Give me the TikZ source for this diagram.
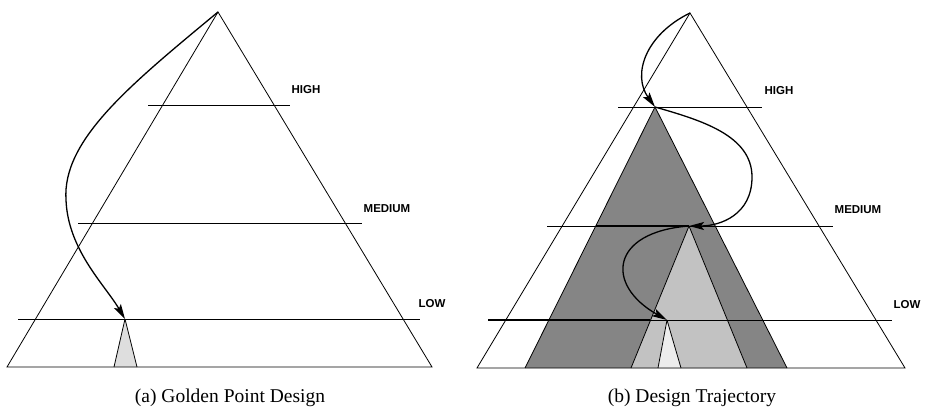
\documentclass[tikz,border=0pt]{standalone}
\usepackage{fontspec}
\setmainfont{Liberation Serif}
\newfontfamily\lblfont{Liberation Sans}
\usetikzlibrary{arrows.meta}
\begin{document}
\begin{tikzpicture}[x=1pt,y=-1pt,
  outline/.style={line width=0.8pt,line join=miter},
  level/.style={line width=0.8pt},
  thicklevel/.style={line width=1.6pt},
  traj/.style={line width=1.3pt,-{Stealth[length=15pt,width=8pt,inset=3pt]}},
  lvllabel/.style={font=\lblfont\bfseries\fontsize{11.5}{13}\selectfont,inner sep=0pt},
  caption/.style={font=\fontsize{19.5}{22}\selectfont,inner sep=0pt}]
\useasboundingbox (0,0) rectangle (928,414);
% ---------- panel (a) ----------
\coordinate (aA) at (218,12);
\coordinate (aL) at (7,367);
\coordinate (aR) at (432,367);
\coordinate (ag) at (125,319);
\coordinate (agL) at (114,367);
\coordinate (agR) at (137,367);
\fill[black!13] (ag) -- (agL) -- (agR) -- cycle;
\draw[outline] (ag) -- (agL) (ag) -- (agR);
\draw[outline] (aA) -- (aL) -- (aR) -- cycle;
\coordinate (ah1) at (148,105); \coordinate (ah2) at (290,105);
\coordinate (am1) at (78,223);  \coordinate (am2) at (362,223);
\coordinate (al1) at (18,319);  \coordinate (al2) at (420,319);
\draw[level] (ah1) -- (ah2);
\draw[level] (am1) -- (am2);
\draw[level] (al1) -- (al2);
\node[lvllabel] (aHigh) at (306,90) {HIGH};
\node[lvllabel] (aMed) at (387,209) {MEDIUM};
\node[lvllabel] (aLow) at (432,304) {LOW};
\draw[traj] (aA) .. controls (130,85) and (62,140) .. (66,200)
  .. controls (68,250) and (105,285) .. (ag);
\node[caption] (capA) at (230,398) {(a) Golden Point Design};
% ---------- panel (b) ----------
\coordinate (bA) at (690,13);
\coordinate (bL) at (477,368);
\coordinate (bR) at (905,368);
\coordinate (bh) at (655,107);
\coordinate (bhL) at (525,368);
\coordinate (bhR) at (787,368);
\coordinate (bm) at (689,226);
\coordinate (bmL) at (631,368);
\coordinate (bmR) at (747,368);
\coordinate (bl) at (667,320);
\coordinate (blL) at (658,368);
\coordinate (blR) at (681,368);
\fill[black!48] (bh) -- (bhL) -- (bhR) -- cycle;
\fill[black!24] (bm) -- (bmL) -- (bmR) -- cycle;
\fill[black!7] (bl) -- (blL) -- (blR) -- cycle;
\draw[outline] (bh) -- (bhL) (bh) -- (bhR);
\draw[outline] (bm) -- (bmL) (bm) -- (bmR);
\draw[outline] (bl) -- (blL) (bl) -- (blR);
\draw[outline] (bA) -- (bL) -- (bR) -- cycle;
\coordinate (bh1) at (618,107); \coordinate (bh2) at (762,107);
\coordinate (bm1) at (547,226); \coordinate (bm2) at (833,226);
\coordinate (bmT) at (596,226);
\coordinate (bl1) at (488,320); \coordinate (bl2) at (892,320);
\coordinate (blT) at (650,320);
\draw[level] (bh1) -- (bh2);
\draw[level] (bm1) -- (bm2);
\draw[thicklevel] (bmT) -- (bm);
\draw[level] (bl1) -- (bl2);
\draw[thicklevel] (bl1) -- (blT);
\node[lvllabel] (bHigh) at (779,91) {HIGH};
\node[lvllabel] (bMed) at (858,210) {MEDIUM};
\node[lvllabel] (bLow) at (907,305) {LOW};
\draw[traj] (bA) .. controls (645,35) and (632,75) .. (bh);
\draw[traj] (bh) .. controls (700,120) and (752,135) .. (752,177)
  .. controls (752,215) and (720,226) .. (bm);
\draw[traj] (bm) .. controls (610,232) and (605,285) .. (bl);
\node[caption] (capB) at (692,398) {(b) Design Trajectory};
\end{tikzpicture}
\end{document}
